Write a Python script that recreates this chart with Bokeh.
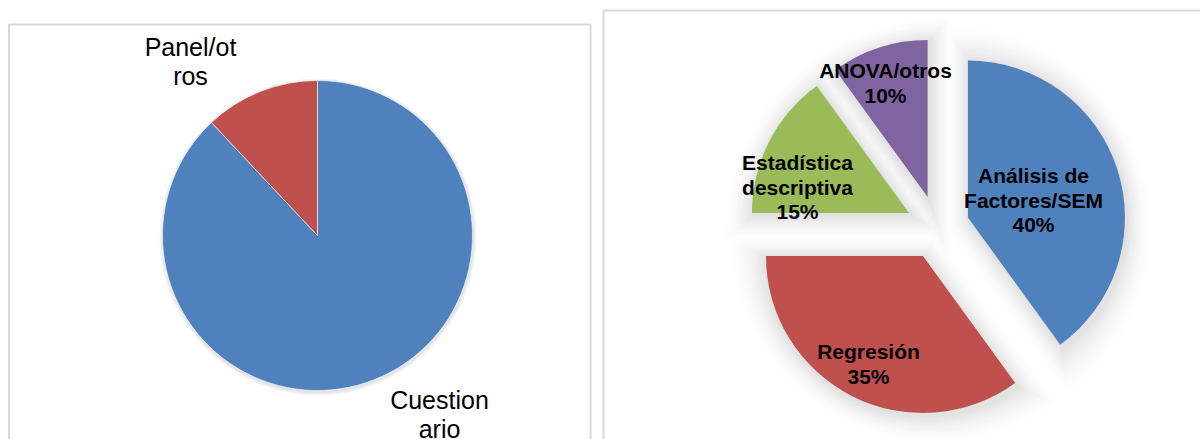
import math
from bokeh.plotting import figure
from bokeh.models import Range1d, ColumnDataSource
from bokeh.core.properties import value
from bokeh.embed import file_html
from bokeh.resources import INLINE

# ---------------- data ----------------
left_categories = ["Cuestionario", "Panel/otros"]
left_values = [88, 12]
left_colors = ["#4F81BD", "#C0504D"]
left_label_lines = [["Cuestion", "ario"], ["Panel/ot", "ros"]]

right_categories = ["Análisis de Factores/SEM", "Regresión", "Estadística descriptiva", "ANOVA/otros"]
right_values = [40, 35, 15, 10]
right_colors = ["#4F81BD", "#C0504D", "#9BBB59", "#8064A2"]
right_label_lines = [["Análisis de", "Factores/SEM"], ["Regresión"], ["Estadística", "descriptiva"], ["ANOVA/otros"]]

# ---------------- layout (pixels, screen coordinates: y down) ----------------
W, H = 1200, 439
def sy(y):
    return H - y

text_shift = 7   # compensate the renderer's baseline placement

left_center = (317, 235)
left_radius = 155
left_label_pos = [(439, 406), (190, 53)]      # first baseline of each label
left_line_gap = 29.5

right_center = (937, 227)
right_radius = 157
right_explode = 32
right_label_pos = [(1033, 182), (868, 358), (797, 169), (885, 77)]
right_line_gap = 24.5


def slice_angles(vals):
    total = float(sum(vals))
    out = []
    cum = 0.0
    for v in vals:
        a0 = cum / total
        a1 = (cum + v) / total
        cum += v
        start = math.pi / 2 - 2 * math.pi * a1
        end = math.pi / 2 - 2 * math.pi * a0
        bis = math.pi / 2 - 2 * math.pi * (a0 + a1) / 2
        half = math.pi * (a1 - a0)
        out.append((start, end, bis, half))
    return out


p = figure(width=W, height=H, x_range=Range1d(0, W), y_range=Range1d(0, H),
           output_backend="svg", toolbar_location=None,
           x_axis_location=None, y_axis_location=None, min_border=0)
p.outline_line_color = None
p.grid.visible = False
p.background_fill_color = "white"
p.border_fill_color = "white"

# ---------------- left pie ----------------
lcx, lcy = left_center[0], sy(left_center[1])
for k in range(1, 4):
    p.circle(x=[lcx + 0.5], y=[lcy - 1.5], radius=left_radius + k * 1.2,
             fill_color="black", fill_alpha=0.035, line_color=None)

la = slice_angles(left_values)
lsrc = ColumnDataSource(dict(
    x=[lcx] * len(left_values), y=[lcy] * len(left_values),
    start=[a[0] for a in la], end=[a[1] for a in la],
    color=left_colors, cat=left_categories))
p.wedge(x="x", y="y", radius=left_radius, start_angle="start", end_angle="end",
        fill_color="color", line_color="white", line_width=0.6, source=lsrc)

for lines, (tx, ty) in zip(left_label_lines, left_label_pos):
    for i, t in enumerate(lines):
        p.text(x=[tx], y=[sy(ty - text_shift + i * left_line_gap)], text=[t],
               text_font=value("Liberation Sans"), text_font_size="25px",
               text_align="center", text_baseline="alphabetic", text_color="black")

# ---------------- right pie (exploded, with soft shadow) ----------------
rcx, rcy = right_center[0], sy(right_center[1])
ra = slice_angles(right_values)
apex = []
for (start, end, bis, half) in ra:
    apex.append((rcx + right_explode * math.cos(bis), rcy + right_explode * math.sin(bis)))

# shadow: opaque grey layers of dilated slices, from outermost (lightest) inwards
shadow_dx, shadow_dy = 1.5, -3.0
for e in range(26, 0, -2):
    shade = int(round(255 - 34 * (1 - e / 28.0) ** 2))
    col = "#%02x%02x%02x" % (shade, shade, shade)
    xs, ys, rs, st, en = [], [], [], [], []
    for (start, end, bis, half), (ax, ay) in zip(ra, apex):
        s = e / math.sin(min(half, math.pi / 2))
        xs.append(ax - s * math.cos(bis) + shadow_dx)
        ys.append(ay - s * math.sin(bis) + shadow_dy)
        rs.append(right_radius + e + s)
        st.append(start)
        en.append(end)
    p.wedge(x=xs, y=ys, radius=rs, start_angle=st, end_angle=en,
            fill_color=col, line_color=None)

rsrc = ColumnDataSource(dict(
    x=[a[0] for a in apex], y=[a[1] for a in apex],
    start=[a[0] for a in ra], end=[a[1] for a in ra],
    color=right_colors, cat=right_categories))
p.wedge(x="x", y="y", radius=right_radius, start_angle="start", end_angle="end",
        fill_color="color", line_color=None, source=rsrc)

for lines, v, (tx, ty) in zip(right_label_lines, right_values, right_label_pos):
    all_lines = lines + [f"{v}%"]
    for i, t in enumerate(all_lines):
        p.text(x=[tx], y=[sy(ty - text_shift + i * right_line_gap)], text=[t],
               text_font=value("Liberation Sans"), text_font_size="21px",
               text_font_style="bold",
               text_align="center", text_baseline="alphabetic", text_color="black")

# panel frames (drawn last so that shadows never cover them)
p.quad(left=[8.5], right=[590], top=[sy(24)], bottom=[-20],
       fill_color=None, line_color="#d9d9d9", line_width=2)
p.quad(left=[603], right=[W + 20], top=[sy(10)], bottom=[-20],
       fill_color=None, line_color="#d9d9d9", line_width=2)

open("out.html", "w").write(file_html(p, INLINE))
